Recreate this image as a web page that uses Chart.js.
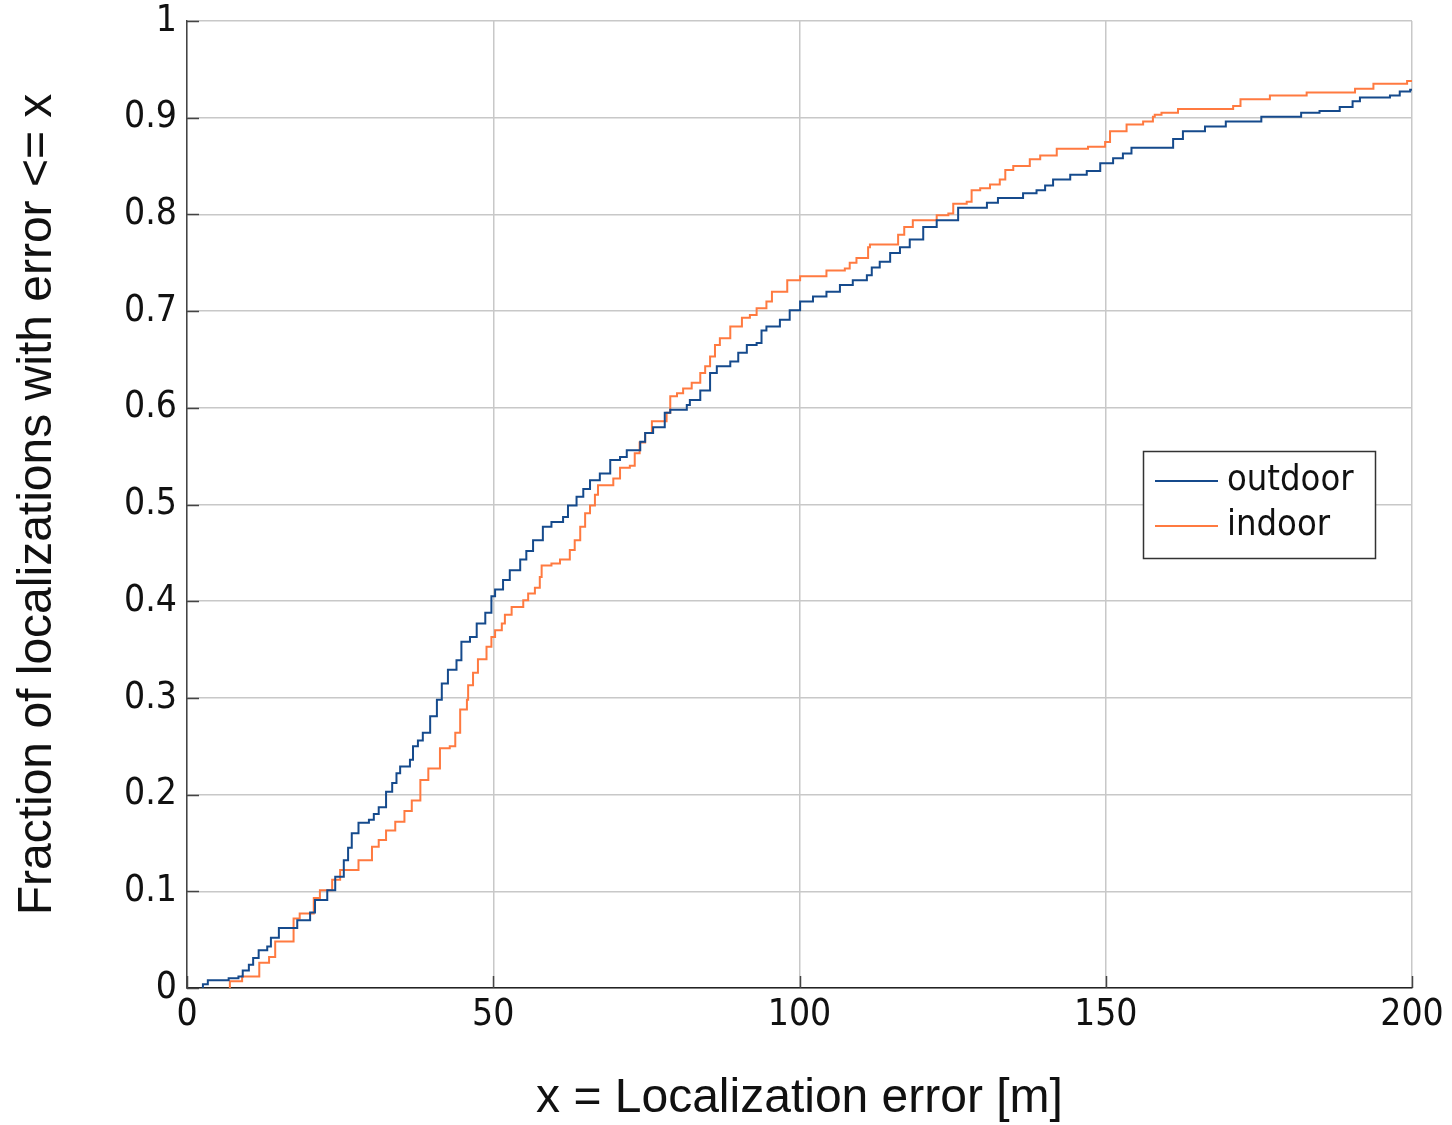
<!DOCTYPE html>
<html>
<head>
<meta charset="utf-8">
<script src="https://cdn.jsdelivr.net/npm/chart.js@4.4.1/dist/chart.umd.min.js"></script>
<style>
  html, body { margin: 0; padding: 0; background: #ffffff; }
  #wrap { width: 1452px; height: 1125px; position: relative; }
</style>
</head>
<body>
<div id="wrap"><canvas id="c" width="1452" height="1125"></canvas></div>
<script>
// ---- data (x = error [m], y = cumulative fraction) ----
const seriesNames = ["outdoor", "indoor"];

const outdoorX = [2.5, 2.6, 3.4, 6.8, 8.4, 9.1, 10.1, 10.8, 11.7, 13.1, 13.7, 15.0, 18.0, 20.1, 20.9, 22.9, 24.2, 25.6, 26.3, 26.9,
  28.0, 29.7, 30.5, 31.3, 32.5, 33.5, 34.2, 34.8, 36.4, 36.9, 37.7, 38.5, 39.7, 40.8, 41.6, 42.6, 44.0, 44.8, 46.2, 47.3,
  48.7, 49.7, 50.3, 51.6, 52.7, 54.4, 55.4, 56.5, 58.1, 59.5, 61.4, 62.2, 63.6, 64.7, 65.8, 67.4, 69.1, 70.7, 71.8, 74.0,
  74.8, 76.1, 78.0, 78.9, 81.6, 82.1, 83.8, 85.4, 86.5, 88.7, 90.0, 91.4, 93.0, 93.8, 94.6, 96.8, 98.4, 100.1, 102.2, 104.4,
  106.6, 108.7, 111.0, 111.8, 113.1, 114.8, 116.4, 118.0, 120.2, 122.4, 125.9, 130.6, 132.4, 136.5, 138.7, 140.1, 141.4, 144.2, 146.9, 149.1,
  151.2, 152.8, 154.2, 161.0, 162.6, 166.2, 169.6, 175.4, 181.9, 184.9, 188.2, 190.3, 191.5, 196.4, 198.0, 199.7, 200];
const outdoorY = [0, 0.004, 0.008, 0.010, 0.012, 0.018, 0.024, 0.031, 0.039, 0.043, 0.052, 0.062, 0.070, 0.078, 0.091, 0.101, 0.115, 0.132, 0.145, 0.160,
  0.171, 0.174, 0.180, 0.187, 0.203, 0.212, 0.222, 0.229, 0.236, 0.250, 0.256, 0.264, 0.281, 0.298, 0.315, 0.329, 0.339, 0.358, 0.363, 0.377,
  0.388, 0.405, 0.412, 0.422, 0.432, 0.443, 0.452, 0.463, 0.477, 0.482, 0.487, 0.499, 0.508, 0.516, 0.525, 0.532, 0.546, 0.549, 0.556, 0.565,
  0.574, 0.580, 0.595, 0.598, 0.603, 0.608, 0.618, 0.636, 0.643, 0.648, 0.657, 0.665, 0.667, 0.680, 0.684, 0.691, 0.701, 0.710, 0.715, 0.720,
  0.727, 0.732, 0.737, 0.745, 0.751, 0.760, 0.766, 0.774, 0.787, 0.794, 0.807, 0.812, 0.817, 0.822, 0.825, 0.830, 0.836, 0.841, 0.845, 0.853,
  0.858, 0.863, 0.869, 0.878, 0.886, 0.891, 0.896, 0.901, 0.905, 0.907, 0.911, 0.917, 0.921, 0.923, 0.927, 0.929, 0.929];

const indoorX = [6.9, 7.0, 9.0, 11.8, 13.4, 14.4, 17.4, 18.4, 20.7, 21.7, 23.7, 25.0, 28.0, 30.2, 31.3, 32.5, 34.0, 35.5, 36.7, 38.1,
  39.4, 41.3, 42.9, 43.8, 44.6, 45.7, 45.9, 46.7, 47.5, 48.9, 49.7, 50.3, 51.4, 51.9, 53.0, 54.9, 55.7, 56.8, 57.6, 57.9,
  59.5, 60.9, 62.5, 63.3, 64.2, 65.0, 65.8, 66.6, 67.1, 69.6, 70.7, 72.3, 73.1, 73.9, 74.8, 75.9, 78.3, 78.9, 80.0, 81.0,
  82.4, 83.8, 84.6, 85.4, 86.2, 87.0, 88.7, 90.6, 91.9, 93.0, 94.6, 95.5, 98.0, 100.1, 104.4, 107.4, 108.2, 109.3, 111.2, 111.5,
  116.1, 117.1, 118.5, 122.4, 124.3, 125.1, 127.3, 128.1, 129.5, 131.1, 132.7, 133.6, 134.9, 137.6, 139.3, 142.0, 147.1, 149.9, 150.7, 153.4,
  156.1, 157.7, 158.0, 159.1, 161.8, 170.8, 172.0, 176.8, 182.8, 190.7, 193.7, 199.2, 200];
const indoorY = [0, 0.007, 0.012, 0.026, 0.032, 0.048, 0.072, 0.077, 0.093, 0.101, 0.112, 0.122, 0.132, 0.146, 0.153, 0.163, 0.172, 0.183, 0.194, 0.215,
  0.227, 0.248, 0.250, 0.264, 0.288, 0.298, 0.313, 0.326, 0.340, 0.353, 0.363, 0.370, 0.377, 0.386, 0.394, 0.401, 0.408, 0.414, 0.425, 0.437,
  0.439, 0.443, 0.453, 0.463, 0.477, 0.491, 0.499, 0.510, 0.520, 0.527, 0.538, 0.540, 0.553, 0.564, 0.574, 0.586, 0.595, 0.612, 0.615, 0.620,
  0.626, 0.636, 0.643, 0.653, 0.665, 0.672, 0.684, 0.693, 0.696, 0.703, 0.710, 0.720, 0.732, 0.736, 0.742, 0.744, 0.750, 0.755, 0.766, 0.769,
  0.779, 0.787, 0.794, 0.799, 0.801, 0.811, 0.813, 0.825, 0.827, 0.831, 0.836, 0.846, 0.850, 0.857, 0.861, 0.868, 0.870, 0.875, 0.886, 0.893,
  0.896, 0.901, 0.903, 0.905, 0.909, 0.912, 0.919, 0.923, 0.926, 0.930, 0.935, 0.938, 0.939];

const xTickValues = [0, 50, 100, 150, 200];
const xTickLabels = ["0", "50", "100", "150", "200"];
const yTickLabels = ["0", "0.1", "0.2", "0.3", "0.4", "0.5", "0.6", "0.7", "0.8", "0.9", "1"];
const xTitle = "x = Localization error [m]";
const yTitle = "Fraction of localizations with error <= x";

const colors = { outdoor: "#154a8c", indoor: "#ff7a40" };
const tickFamily = "'DejaVu Sans Condensed', 'DejaVu Sans'";

function toPoints(xs, ys) { return xs.map((x, i) => ({ x: x, y: ys[i] })); }

const tickMarks = {
  id: "tickMarks",
  afterDatasetsDraw(chart) {
    const { ctx, chartArea, scales } = chart;
    ctx.save();
    ctx.strokeStyle = "#444";
    ctx.lineWidth = 1.5;
    scales.y.ticks.forEach(t => {
      const py = Math.round(scales.y.getPixelForValue(t.value)) + 0.5;
      ctx.beginPath(); ctx.moveTo(chartArea.left, py); ctx.lineTo(chartArea.left + 12, py); ctx.stroke();
    });
    scales.x.ticks.forEach(t => {
      const px = Math.round(scales.x.getPixelForValue(t.value)) + 0.5;
      ctx.beginPath(); ctx.moveTo(px, chartArea.bottom); ctx.lineTo(px, chartArea.bottom - 12); ctx.stroke();
    });
    ctx.restore();
  }
};

const boxLegend = {
  id: "boxLegend",
  afterDraw(chart) {
    const { ctx } = chart;
    const bx = 1143.5, by = 451.5, bw = 232, bh = 107;
    ctx.save();
    ctx.fillStyle = "#ffffff";
    ctx.fillRect(bx, by, bw, bh);
    ctx.strokeStyle = "#333";
    ctx.lineWidth = 1.5;
    ctx.strokeRect(bx, by, bw, bh);
    ctx.font = "36px " + tickFamily;
    ctx.textBaseline = "middle";
    ctx.fillStyle = "#111";
    chart.data.datasets.forEach((ds, i) => {
      const ly = 481 + i * 45;
      ctx.strokeStyle = ds.borderColor;
      ctx.lineWidth = 2;
      ctx.beginPath(); ctx.moveTo(1155, ly); ctx.lineTo(1218, ly); ctx.stroke();
      ctx.fillText(ds.label, 1227, ly);
    });
    ctx.restore();
  }
};

new Chart(document.getElementById("c"), {
  type: "line",
  data: {
    datasets: [
      { label: seriesNames[0], data: toPoints(outdoorX, outdoorY), borderColor: colors.outdoor, borderWidth: 2,
        pointRadius: 0, stepped: "before", fill: false, tension: 0 },
      { label: seriesNames[1], data: toPoints(indoorX, indoorY), borderColor: colors.indoor, borderWidth: 2,
        pointRadius: 0, stepped: "before", fill: false, tension: 0 }
    ]
  },
  options: {
    responsive: false,
    animation: false,
    layout: { padding: { left: 0, right: 40, top: 21, bottom: 0 } },
    plugins: { legend: { display: false }, tooltip: { enabled: false } },
    scales: {
      x: {
        type: "linear", min: 0, max: 200,
        afterBuildTicks(scale) { scale.ticks = xTickValues.map(v => ({ value: v })); },
        afterFit(scale) { scale.height = 137; scale.paddingLeft = 0; scale.paddingRight = 0; },
        grid: { color: "#c8c8c8", lineWidth: 1.5, drawTicks: false },
        border: { color: "#222", width: 1.5 },
        ticks: { padding: 5, color: "#111", font: { family: tickFamily, size: 37 },
          maxRotation: 0, callback: (v, i) => xTickLabels[i] },
        title: { display: true, text: xTitle, color: "#111",
          font: { family: "'Liberation Sans'", size: 48, lineHeight: 1.1 }, padding: { top: 0, bottom: 0 } }
      },
      y: {
        type: "linear", min: 0, max: 1,
        ticks: { stepSize: 0.1, padding: 10, color: "#111", font: { family: tickFamily, size: 37 },
          callback: (v, i) => yTickLabels[i] },
        afterFit(scale) { scale.width = 187; scale.paddingTop = 0; scale.paddingBottom = 0; },
        grid: { color: "#c8c8c8", lineWidth: 1.5, drawTicks: false },
        border: { color: "#444", width: 1.5 },
        title: { display: true, text: yTitle, color: "#111",
          font: { family: "'Liberation Sans'", size: 48, lineHeight: 1.2 }, padding: { top: 9, bottom: 0 } }
      }
    }
  },
  plugins: [tickMarks, boxLegend]
});
</script>
</body>
</html>
